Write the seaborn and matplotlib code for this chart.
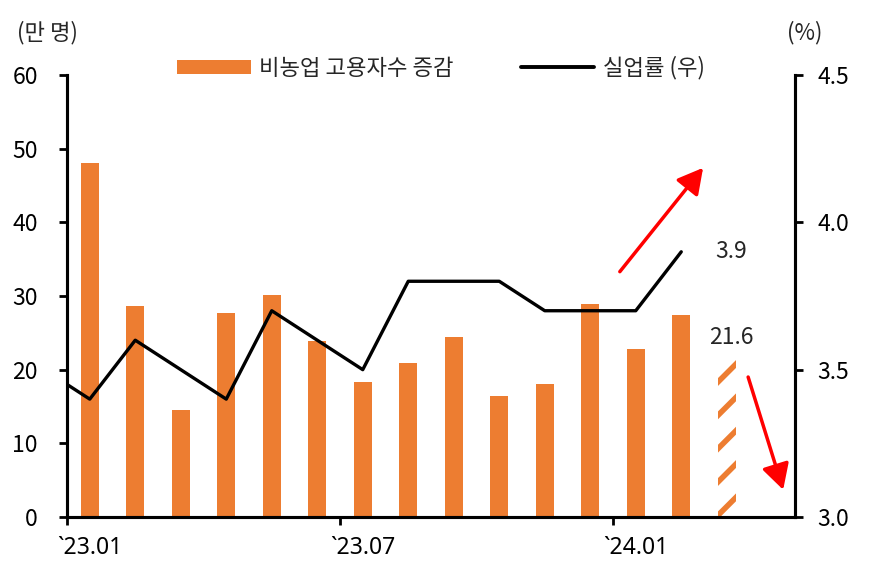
import matplotlib
matplotlib.use("Agg")
import matplotlib.pyplot as plt
import seaborn as sns
import numpy as np
from matplotlib.patches import Patch
from matplotlib.lines import Line2D

# ---- data ----
axis_months = ['23.01', '23.02', '23.03', '23.04', '23.05', '23.06', '23.07', '23.08',
               '23.09', '23.10', '23.11', '23.12', '24.01', '24.02', '24.03', '24.04']
payroll_months = ['23.01', '23.02', '23.03', '23.04', '23.05', '23.06', '23.07', '23.08',
                  '23.09', '23.10', '23.11', '23.12', '24.01', '24.02', '24.03']
payroll_change = [48.1, 28.6, 14.5, 27.7, 30.2, 23.9, 18.3, 20.9,
                  24.5, 16.4, 18.1, 28.9, 22.8, 27.4, 21.6]
rate_months = ['22.12', '23.01', '23.02', '23.03', '23.04', '23.05', '23.06', '23.07',
               '23.08', '23.09', '23.10', '23.11', '23.12', '24.01', '24.02']
unemployment = [3.5, 3.4, 3.6, 3.5, 3.4, 3.7, 3.6, 3.5,
                3.8, 3.8, 3.8, 3.7, 3.7, 3.7, 3.9]
tick_months = ['23.01', '23.07', '24.01']
bar_label = '비농업 고용자수 증감'
line_label = '실업률 (우)'
left_unit = '(만 명)'
right_unit = '(%)'


def mpos(m):
    yy, mm = m.split('.')
    return (int(yy) - 23) * 12 + int(mm) - 1


bar_x = [mpos(m) for m in payroll_months]
rate_x = [mpos(m) for m in rate_months]

ORANGE = '#ED7D31'
NUM_FS = 16.5
TXT_FS = 16

sns.set_style('white')
plt.rcParams['font.family'] = ['Noto Sans CJK KR', 'DejaVu Sans']
plt.rcParams['hatch.linewidth'] = 4.0
plt.rcParams['axes.linewidth'] = 2.2

fig = plt.figure(figsize=(8.69, 5.84), dpi=100)
ax = fig.add_axes([67 / 869, 1 - 517 / 584, (795 - 67) / 869, (517 - 75) / 584])

sns.barplot(x=bar_x, y=payroll_change, native_scale=True, width=0.4,
            color=ORANGE, saturation=1, ax=ax, linewidth=0)

# last (provisional) bar hatched
last = ax.patches[-1]
last.set_facecolor('white')
last.set_edgecolor(ORANGE)
last.set_hatch('/')
last.set_linewidth(0)

ax2 = ax.twinx()
sns.lineplot(x=rate_x, y=unemployment, ax=ax2, color='black', linewidth=2.4)

n = len(axis_months)
ax.set_xlim(-0.5, n - 0.5)
ax.set_ylim(0, 60)
ax2.set_ylim(3.0, 4.5)
ax.set_yticks(np.arange(0, 61, 10))
ax2.set_yticks([3.0, 3.5, 4.0, 4.5])
ax2.set_yticklabels(['3.0', '3.5', '4.0', '4.5'])

for a in (ax, ax2):
    a.spines['top'].set_visible(False)
    a.spines['left'].set_visible(True)
    a.spines['right'].set_visible(True)
    a.spines['bottom'].set_visible(True)
    for s in a.spines.values():
        s.set_color('black')
        s.set_linewidth(2.2)
    a.set_xlabel('')
    a.set_ylabel('')

ax.tick_params(axis='y', direction='out', length=6, width=2, colors='black',
               labelsize=NUM_FS, pad=15, left=True)
ax2.tick_params(axis='y', direction='out', length=6, width=2, colors='black',
                labelsize=NUM_FS, pad=10, right=True)

# x: labels at bar centres, tick marks at period boundaries
tpos = [mpos(m) for m in tick_months]
ax.set_xticks(tpos)
ax.set_xticklabels(['`' + m for m in tick_months], fontsize=NUM_FS,
                   family=['Noto Sans', 'DejaVu Sans'])
ax.tick_params(axis='x', which='major', length=0, pad=14, colors='black')
ax.set_xticks([p - 0.5 for p in tpos], minor=True)
ax.tick_params(axis='x', which='minor', direction='out', length=6, width=2,
               bottom=True, colors='black')
ax2.tick_params(axis='x', which='both', length=0)

# annotations
ax2.text(rate_x[-1] + 1.1, unemployment[-1], f'{unemployment[-1]:.1f}',
         ha='center', va='center', fontsize=NUM_FS)
ax.text(bar_x[-1] + 0.1, payroll_change[-1] + 2.8, f'{payroll_change[-1]:.1f}',
        ha='center', va='center', fontsize=NUM_FS)

arrow = dict(arrowstyle='-|>,head_length=0.55,head_width=0.3', color='#FF0000',
             lw=2.5, mutation_scale=28, shrinkA=0, shrinkB=0)
ax.annotate('', xy=(13.48, 47.4), xytext=(11.65, 33.3), arrowprops=arrow)
ax.annotate('', xy=(15.24, 3.7), xytext=(14.47, 19.0), arrowprops=arrow,
            annotation_clip=False)

# units
fig.text(17 / 869, 1 - 33 / 584, left_unit, ha='left', va='center', fontsize=TXT_FS)
fig.text(805 / 869, 1 - 33 / 584, right_unit, ha='center', va='center', fontsize=TXT_FS)

# legend
handles = [Patch(facecolor=ORANGE, edgecolor='none', label=bar_label),
           Line2D([], [], color='black', linewidth=2.8, label=line_label)]
fig.legend(handles=handles, loc='center', bbox_to_anchor=(441 / 869, 1 - 68 / 584),
           ncol=2, frameon=False, fontsize=TXT_FS, handlelength=3.3, handleheight=0.6,
           handletextpad=0.4, columnspacing=3.0)

fig.savefig('out.png', dpi=100)
